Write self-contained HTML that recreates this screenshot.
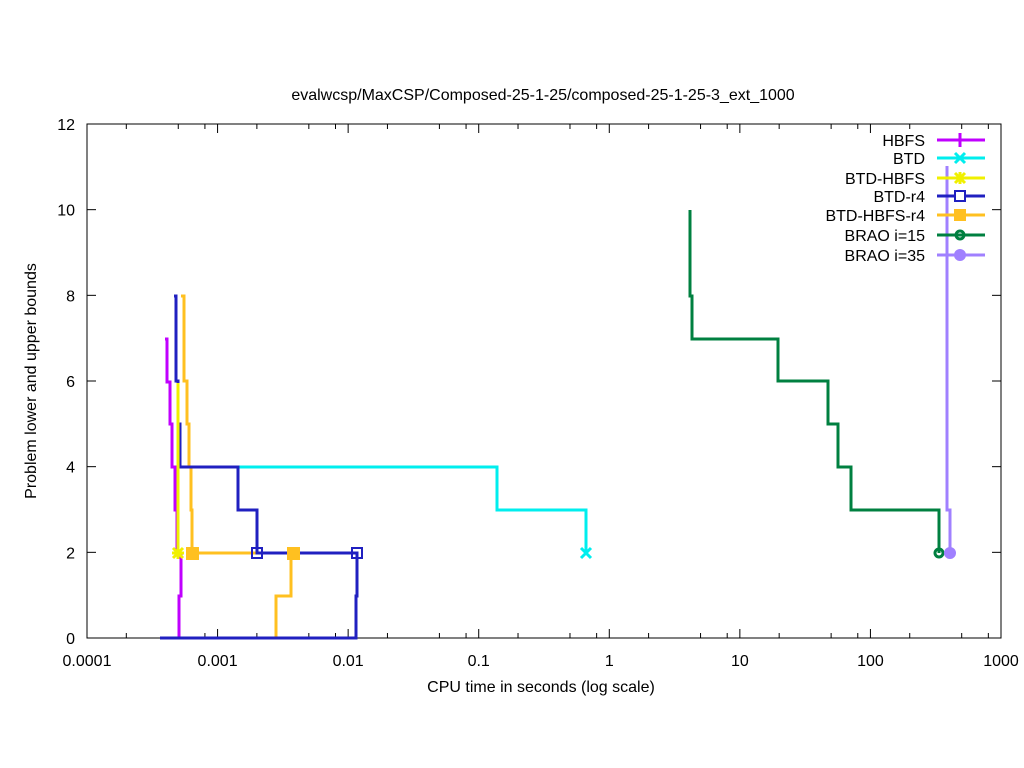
<!DOCTYPE html>
<html><head><meta charset="utf-8"><style>body{margin:0;background:#fff}svg{display:block}text{font-family:"Liberation Sans",sans-serif;font-size:16px;fill:#000}</style></head>
<body>
<svg id="s" width="1024" height="768" xmlns="http://www.w3.org/2000/svg">
<rect width="1024" height="768" fill="#fff"/>
<text x="543" y="100" text-anchor="middle">evalwcsp/MaxCSP/Composed-25-1-25/composed-25-1-25-3_ext_1000</text>
<g id="ticks" stroke="#000" stroke-width="1"></g>
<rect x="87" y="124" width="914" height="514" fill="none" stroke="#000"/>
<g id="lab"></g>
<text x="541" y="692" text-anchor="middle">CPU time in seconds (log scale)</text>
<text transform="translate(36,381) rotate(-90)" text-anchor="middle">Problem lower and upper bounds</text>
<g fill="none" stroke-width="3">
<polyline stroke="#c000ff" points="165,339 167,339 167,382 170,382 170,424 172,424 172,467 175,467 175,510 177,510 177,553 181,553 181,596 179,596 179,638"/>
<polyline stroke="#ffc020" points="170,638 276,638 276,596 291,596 291,553 192,553 192,510 191,510 191,467 189,467 189,424 187,424 187,381 184,381 184,296 181,296"/>
<polyline stroke="#00eeee" points="238,467 497,467 497,510 586,510 586,553"/>
<polyline stroke="#2020c0" points="174,296 176,296 176,381 178,381 178,424 180,424 180,467 238,467 238,510 257,510 257,553 357,553 357,596 356,596 356,638 160,638"/>
<polyline stroke="#f0f000" points="178,383 178,553"/>
<polyline stroke="#008040" points="690,210 690,296 692,296 692,339 778,339 778,381 828,381 828,424 838,424 838,467 851,467 851,510 939,510 939,553"/>
<polyline stroke="#a080ff" points="947,166 947,510 950,510 950,553"/>
</g>
<g stroke-width="2" fill="none">
<rect x="252" y="548" width="10" height="10" stroke="#2020c0"/>
<rect x="352" y="548" width="10" height="10" stroke="#2020c0"/>
<rect x="187" y="548" width="11" height="11" fill="#ffc020" stroke="#ffc020"/>
<rect x="288" y="548" width="11" height="11" fill="#ffc020" stroke="#ffc020"/>
<path d="M581,548l10,10M591,548l-10,10" stroke="#00eeee" stroke-width="3"/>
<path d="M173,548l10,10M183,548l-10,10M178,547v12M172,553h12" stroke="#f0f000" stroke-width="3"/>
<circle cx="939" cy="553" r="4" stroke="#008040" stroke-width="3"/>
<circle cx="950" cy="553" r="5" fill="#a080ff" stroke="#a080ff"/>
</g>
<g id="leg"></g>
</svg>
<script>
var N="http://www.w3.org/2000/svg";
function el(p,t,a,tx){var e=document.createElementNS(N,t);for(var k in a)e.setAttribute(k,a[k]);if(tx)e.textContent=tx;document.getElementById(p).appendChild(e);return e;}
var x0=87,dx=914/7;
var xl=["0.0001","0.001","0.01","0.1","1","10","100","1000"];
for(var d=0;d<=7;d++){var x=x0+d*dx;
 el("ticks","line",{x1:x,y1:638,x2:x,y2:629});el("ticks","line",{x1:x,y1:124,x2:x,y2:133});
 el("lab","text",{x:x,y:666,"text-anchor":"middle"},xl[d]);
 if(d<7)[2,5,8].forEach(function(m){var xm=x+Math.log10(m)*dx;el("ticks","line",{x1:xm,y1:638,x2:xm,y2:633});el("ticks","line",{x1:xm,y1:124,x2:xm,y2:129});});}
for(var v=0;v<=12;v+=2){var y=638-v*514/12;
 el("ticks","line",{x1:87,y1:y,x2:96,y2:y});el("ticks","line",{x1:1001,y1:y,x2:992,y2:y});
 el("lab","text",{x:75,y:y+6,"text-anchor":"end"},String(v));}
var L=[["HBFS","#c000ff",140],["BTD","#00eeee",158],["BTD-HBFS","#f0f000",178],["BTD-r4","#2020c0",196],["BTD-HBFS-r4","#ffc020",215],["BRAO i=15","#008040",235],["BRAO i=35","#a080ff",255]];
L.forEach(function(r,i){el("leg","text",{x:925,y:r[2]+6,"text-anchor":"end"},r[0]);
 el("leg","line",{x1:937,y1:r[2],x2:985,y2:r[2],stroke:r[1],"stroke-width":3});
 var c=r[1],y=r[2];
 if(i==0)el("leg","line",{x1:960,y1:y-7,x2:960,y2:y+7,stroke:c,"stroke-width":3});
 if(i==1||i==2){el("leg","path",{d:"M955,"+(y-5)+"l10,10M965,"+(y-5)+"l-10,10",stroke:c,"stroke-width":3});}
 if(i==2)el("leg","line",{x1:960,y1:y-6,x2:960,y2:y+6,stroke:c,"stroke-width":3});
 if(i==3)el("leg","rect",{x:955,y:y-5,width:10,height:10,fill:"#fff",stroke:c,"stroke-width":2});
 if(i==4)el("leg","rect",{x:954,y:y-6,width:12,height:12,fill:c});
 if(i==5)el("leg","circle",{cx:960,cy:y,r:4,fill:"none",stroke:c,"stroke-width":3});
 if(i==6)el("leg","circle",{cx:960,cy:y,r:6,fill:c});
});
</script>
</body></html>
